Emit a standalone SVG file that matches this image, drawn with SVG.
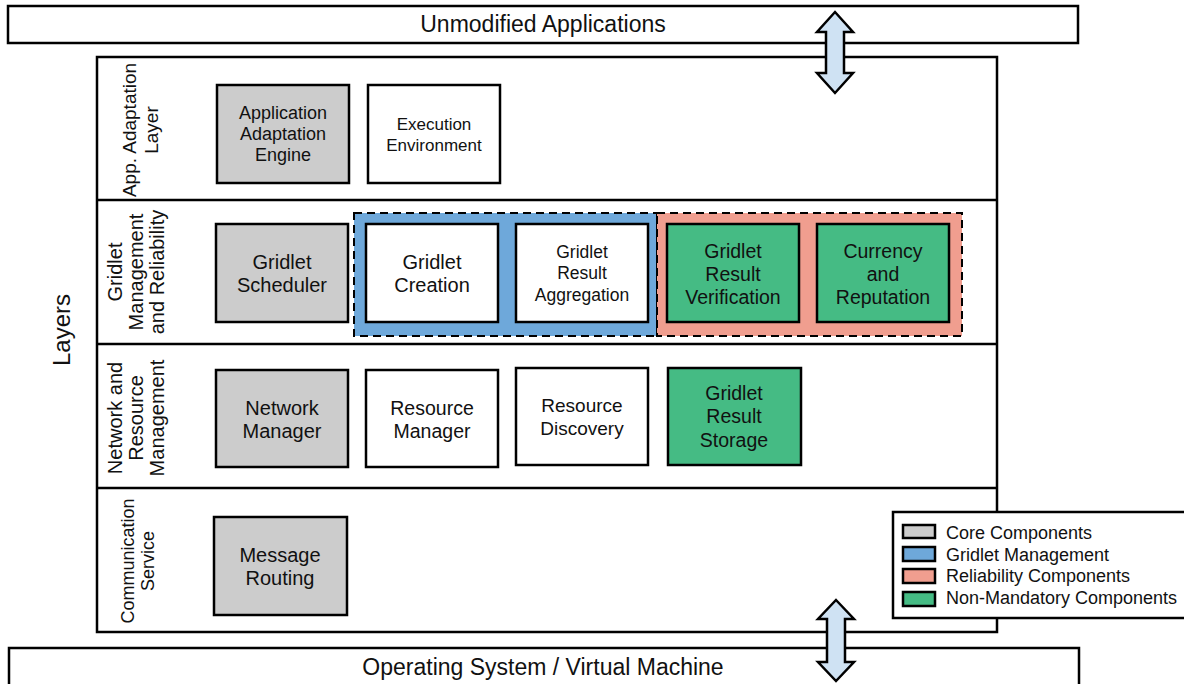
<svg xmlns="http://www.w3.org/2000/svg" width="1184" height="684" viewBox="0 0 1184 684">
<style>
text{font-family:"Liberation Sans",Arial,sans-serif;fill:#111;}
.frame{fill:#fff;stroke:#000;stroke-width:2.5;}
.node{stroke:#000;stroke-width:2.5;}
.core{fill:#cccccc;}
.plain{fill:#ffffff;}
.opt{fill:#45bb84;}
.grp{stroke:#000;stroke-width:2;stroke-dasharray:8,5;}
.blue{fill:#6ea8da;}
.red{fill:#f09e8f;}
.arrow{fill:#cfe2f3;stroke:#000;stroke-width:2.5;stroke-linejoin:miter;}
.c{text-anchor:middle;}
.sep{stroke:#000;stroke-width:2.5;}
</style>
<rect width="1184" height="684" fill="#fff"/>
<g id="apps"><rect class="frame" x="8" y="6" width="1070" height="37"/><text class="c" x="543" y="32" font-size="23">Unmodified Applications</text></g>
<g id="os"><rect class="frame" x="9" y="648" width="1070" height="50"/><text class="c" x="543" y="675" font-size="23">Operating System / Virtual Machine</text></g>
<g id="layers-box">
<rect class="frame" x="97" y="57" width="900" height="575"/>
<line class="sep" x1="97" y1="200" x2="997" y2="200"/>
<line class="sep" x1="97" y1="344" x2="997" y2="344"/>
<line class="sep" x1="97" y1="488" x2="997" y2="488"/>
</g>
<g id="layers-label"><text class="c" transform="translate(62,330) rotate(-90)" font-size="24" y="8">Layers</text></g>
<g id="layer-app"><text class="c" transform="translate(0,130) rotate(-90)" font-size="19"><tspan x="0" y="136">App. Adaptation</tspan><tspan x="0" y="158">Layer</tspan></text></g>
<g id="layer-gridlet"><text class="c" transform="translate(0,272) rotate(-90)" font-size="20"><tspan x="0" y="122">Gridlet</tspan><tspan x="0" y="143">Management</tspan><tspan x="0" y="164">and Reliability</tspan></text></g>
<g id="layer-network"><text class="c" transform="translate(0,418) rotate(-90)" font-size="20"><tspan x="0" y="122">Network and</tspan><tspan x="0" y="143">Resource</tspan><tspan x="0" y="164">Management</tspan></text></g>
<g id="layer-comm"><text class="c" transform="translate(0,561) rotate(-90)" font-size="18"><tspan x="0" y="134">Communication</tspan><tspan x="0" y="154">Service</tspan></text></g>
<g id="group-gridlet-mgmt"><rect class="grp blue" x="354" y="213" width="303" height="123"/></g>
<g id="group-reliability"><rect class="grp red" x="657" y="213" width="305" height="123"/></g>
<g id="app-adaptation-engine"><rect class="node core" x="217" y="85" width="132" height="98"/><text class="c" font-size="18"><tspan x="283" y="119">Application</tspan><tspan x="283" y="140">Adaptation</tspan><tspan x="283" y="161">Engine</tspan></text></g>
<g id="execution-environment"><rect class="node plain" x="368" y="85" width="132" height="98"/><text class="c" font-size="17"><tspan x="434" y="130">Execution</tspan><tspan x="434" y="151">Environment</tspan></text></g>
<g id="gridlet-scheduler"><rect class="node core" x="216" y="224" width="132" height="98"/><text class="c" font-size="20"><tspan x="282" y="269">Gridlet</tspan><tspan x="282" y="292">Scheduler</tspan></text></g>
<g id="gridlet-creation"><rect class="node plain" x="366" y="224" width="132" height="98"/><text class="c" font-size="20"><tspan x="432" y="269">Gridlet</tspan><tspan x="432" y="292">Creation</tspan></text></g>
<g id="gridlet-result-aggregation"><rect class="node plain" x="516" y="224" width="132" height="98"/><text class="c" font-size="17.5"><tspan x="582" y="258">Gridlet</tspan><tspan x="582" y="279">Result</tspan><tspan x="582" y="301">Aggregation</tspan></text></g>
<g id="gridlet-result-verification"><rect class="node opt" x="667" y="224" width="132" height="98"/><text class="c" font-size="19.5"><tspan x="733" y="258">Gridlet</tspan><tspan x="733" y="281">Result</tspan><tspan x="733" y="304">Verification</tspan></text></g>
<g id="currency-reputation"><rect class="node opt" x="817" y="224" width="132" height="98"/><text class="c" font-size="19.5"><tspan x="883" y="258">Currency</tspan><tspan x="883" y="281">and</tspan><tspan x="883" y="304">Reputation</tspan></text></g>
<g id="network-manager"><rect class="node core" x="216" y="370" width="132" height="97"/><text class="c" font-size="20"><tspan x="282" y="415">Network</tspan><tspan x="282" y="438">Manager</tspan></text></g>
<g id="resource-manager"><rect class="node plain" x="366" y="370" width="132" height="97"/><text class="c" font-size="19.5"><tspan x="432" y="415">Resource</tspan><tspan x="432" y="438">Manager</tspan></text></g>
<g id="resource-discovery"><rect class="node plain" x="516" y="368" width="132" height="97"/><text class="c" font-size="19"><tspan x="582" y="412">Resource</tspan><tspan x="582" y="435">Discovery</tspan></text></g>
<g id="gridlet-result-storage"><rect class="node opt" x="668" y="368" width="133" height="97"/><text class="c" font-size="19.5"><tspan x="734" y="400">Gridlet</tspan><tspan x="734" y="423">Result</tspan><tspan x="734" y="447">Storage</tspan></text></g>
<g id="message-routing"><rect class="node core" x="214" y="517" width="133" height="98"/><text class="c" font-size="20"><tspan x="280" y="562">Message</tspan><tspan x="280" y="585">Routing</tspan></text></g>
<g id="connectors">
<path class="arrow" d="M835,12 L853,32 L844,32 L844,73 L853,73 L835,93 L817,73 L826,73 L826,32 L817,32 Z"/>
<path class="arrow" d="M836,600 L854,619 L845,619 L845,662 L854,662 L836,681 L818,662 L827,662 L827,619 L818,619 Z"/>
</g>
<g id="legend">
<rect x="893" y="512" width="300" height="106" fill="#fff" stroke="#000" stroke-width="2.5"/>
<rect class="node core" x="903" y="525" width="32" height="13"/>
<rect class="node blue" x="903" y="547" width="32" height="14"/>
<rect class="node red" x="903" y="569" width="32" height="14"/>
<rect class="node opt" x="903" y="592" width="32" height="14"/>
<text font-size="18"><tspan x="946" y="539">Core Components</tspan><tspan x="946" y="561">Gridlet Management</tspan><tspan x="946" y="582">Reliability Components</tspan><tspan x="946" y="604">Non-Mandatory Components</tspan></text>
</g>
</svg>
